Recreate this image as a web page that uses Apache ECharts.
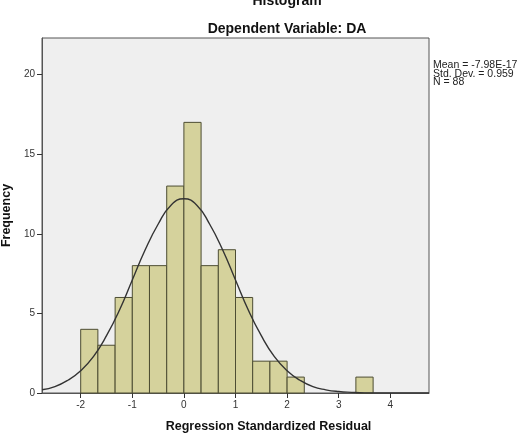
<!DOCTYPE html>
<html>
<head>
<meta charset="utf-8">
<script src="https://cdn.jsdelivr.net/npm/echarts@6/dist/echarts.min.js"></script>
<style>
  html, body { margin: 0; padding: 0; background: #fff; }
  #chart { width: 523px; height: 434px; }
</style>
</head>
<body>
<div id="chart"></div>
<script>
// histogram bins: [from, to, count]
const binFrom  = [-2, -1.667, -1.333, -1, -0.667, -0.333, 0, 0.333, 0.667, 1, 1.333, 1.667, 2, 3.333];
const binTo    = [-1.667, -1.333, -1, -0.667, -0.333, 0, 0.333, 0.667, 1, 1.333, 1.667, 2, 2.333, 3.667];
const counts   = [4, 3, 6, 8, 8, 13, 17, 8, 9, 6, 2, 2, 1, 1];

// normal curve
const curveX = [-2.75, -2.5, -2.25, -2, -1.75, -1.5, -1.25, -1, -0.75, -0.5, -0.25, 0,
                0.25, 0.5, 0.75, 1, 1.25, 1.5, 1.75, 2, 2.25, 2.5, 2.75, 3, 3.25, 3.5, 4, 4.75];
const curveY = [0.2, 0.4, 0.8, 1.4, 2.3, 3.6, 5.2, 7.1, 9.0, 10.6, 11.8, 12.2,
                11.8, 10.6, 9.0, 7.1, 5.2, 3.6, 2.3, 1.4, 0.8, 0.4, 0.2, 0.09, 0.04, 0.01, 0, 0];

const xTicks = [-2, -1, 0, 1, 2, 3, 4];
const yTicks = [0, 5, 10, 15, 20];
const statsLines = ['Mean = -7.98E-17', 'Std. Dev. = 0.959', 'N = 88'];

const axisClr = '#333';
const barFill = '#d5d29c';
const barEdge = '#4d4d33';

const chart = echarts.init(document.getElementById('chart'), null, { renderer: 'canvas' });

chart.setOption({
  backgroundColor: '#ffffff', animation: false,
  title: [
    { text: 'Histogram', left: 282, top: -11, textAlign: 'center',
      textStyle: { fontFamily: 'Liberation Sans', fontSize: 14, fontWeight: 'bold', color: '#111' } },
    { text: 'Dependent Variable: DA', left: 282, top: 17, textAlign: 'center',
      textStyle: { fontFamily: 'Liberation Sans', fontSize: 14, fontWeight: 'bold', color: '#111' } },
  ],
  graphic: [{
    type: 'text', left: 433, top: 60,
    style: { text: statsLines.join('\n'), font: '10.5px "Liberation Sans"', fill: '#222', lineHeight: 8.3 },
  }],
  grid: {
    left: 42, right: 94, top: 38, bottom: 41, show: true,
    containLabel: false, outerBoundsMode: 'none',
    backgroundColor: '#efefef', borderColor: '#555', borderWidth: 1,
  },
  xAxis: {
    type: 'value', min: -2.75, max: 4.75,
    name: 'Regression Standardized Residual', nameLocation: 'middle', nameGap: 27,
    nameTextStyle: { fontFamily: 'Liberation Sans', fontSize: 12.5, fontWeight: 'bold', color: '#111',
      padding: [0, 0, 0, 66] },
    axisLine: { show: true, onZero: false, lineStyle: { color: '#555' } },
    axisTick: { show: true, customValues: xTicks, length: 5, lineStyle: { color: axisClr } },
    axisLabel: { customValues: xTicks, color: '#333', fontFamily: 'Liberation Sans', fontSize: 10, margin: 7 },
    splitLine: { show: false },
  },
  yAxis: {
    type: 'value', min: 0, max: 22.3,
    name: 'Frequency', nameLocation: 'middle', nameGap: 28, nameRotate: 90,
    nameTextStyle: { fontFamily: 'Liberation Sans', fontSize: 12.5, fontWeight: 'bold', color: '#111' },
    axisLine: { show: true, onZero: false, lineStyle: { color: '#555' } },
    axisTick: { show: true, customValues: yTicks, length: 5, lineStyle: { color: axisClr } },
    axisLabel: { customValues: yTicks, color: '#333', fontFamily: 'Liberation Sans', fontSize: 10, margin: 7 },
    splitLine: { show: false },
  },
  series: [
    {
      type: 'custom', z: 2,
      data: counts.map((c, i) => [binFrom[i], binTo[i], c]),
      renderItem(params, api) {
        const p0 = api.coord([api.value(0), api.value(2)]);
        const p1 = api.coord([api.value(1), 0]);
        return {
          type: 'rect',
          shape: { x: p0[0], y: p0[1], width: p1[0] - p0[0], height: p1[1] - p0[1] },
          style: { fill: barFill, stroke: barEdge, lineWidth: 1 },
        };
      },
    },
    {
      type: 'line', z: 5, smooth: true, symbol: 'none',
      data: curveX.map((x, i) => [x, curveY[i]]),
      lineStyle: { color: '#333', width: 1.4 },
    },
  ],
});
</script>
</body>
</html>
